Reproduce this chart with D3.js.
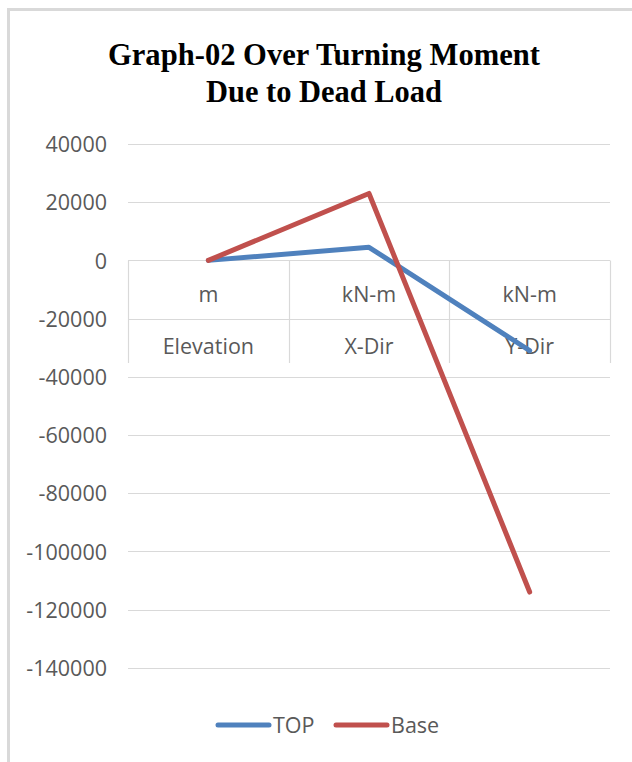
<!DOCTYPE html>
<html>
<head>
<meta charset="utf-8">
<script src="https://cdn.jsdelivr.net/npm/d3@7"></script>
<style>
  html, body { margin: 0; padding: 0; background: #ffffff; }
  svg { display: block; }
</style>
</head>
<body>
<svg id="chart" width="632" height="762"></svg>
<script>
// ---- data ----
const titleLines = ["Graph-02 Over Turning Moment", "Due to Dead Load"];
const categories = ["Elevation", "X-Dir", "Y-Dir"];
const units = ["m", "kN-m", "kN-m"];
const seriesNames = ["TOP", "Base"];
const topValues = [0, 4500, -31000];
const baseValues = [0, 23000, -114000];
const yTicks = [40000, 20000, 0, -20000, -40000, -60000, -80000, -100000, -120000, -140000];
const colors = ["#4f81bd", "#c0504d"];

const svg = d3.select("#chart");
const W = 632, H = 762;
const plot = { left: 128, right: 610, top: 144, bottom: 667.7 };
const labelFont = "'Open Sans', 'Noto Sans', sans-serif";
const labelSize = 21.5;
const textColor = "#595959";
const gridColor = "#d9d9d9";

// chart frame
svg.append("rect")
  .attr("x", 8.5).attr("y", 9.5)
  .attr("width", W + 20).attr("height", H + 20)
  .attr("fill", "#ffffff")
  .attr("stroke", "#d9d9d9").attr("stroke-width", 3);

// title
const titleWidths = [432, 236];
const titleBaselines = [65, 102];
titleLines.forEach((t, i) => {
  svg.append("text")
    .attr("x", 324).attr("y", titleBaselines[i])
    .attr("text-anchor", "middle")
    .attr("font-family", "'Liberation Serif', 'DejaVu Serif', serif")
    .attr("font-weight", "bold")
    .attr("font-size", 31)
    .attr("fill", "#000000")
    .attr("textLength", titleWidths[i])
    .attr("lengthAdjust", "spacingAndGlyphs")
    .text(t);
});

// scales
const y = d3.scaleLinear().domain([-140000, 40000]).range([plot.bottom, plot.top]);
const x = d3.scaleBand().domain(categories).range([plot.left, plot.right]).padding(0);
const cx = c => x(c) + x.bandwidth() / 2;

// gridlines
svg.append("g").selectAll("line").data(yTicks).join("line")
  .attr("x1", plot.left).attr("x2", plot.right)
  .attr("y1", d => Math.round(y(d)) + 0.5).attr("y2", d => Math.round(y(d)) + 0.5)
  .attr("stroke", gridColor).attr("stroke-width", 1.2);

// y axis labels via d3 axis
const yAxis = d3.axisLeft(y).tickValues(yTicks).tickFormat(d => String(d)).tickSize(0).tickPadding(0);
const gy = svg.append("g").attr("transform", `translate(107,0)`).call(yAxis);
gy.select(".domain").remove();
gy.selectAll("text")
  .attr("font-family", labelFont)
  .attr("font-size", labelSize)
  .attr("fill", textColor)
  .attr("dy", "0.36em")
  .attr("x", 0);

// category table
const y0 = Math.round(y(0)) + 0.5;
const tableBottom = 363;
const rowSplit = Math.round(y(-20000)) + 0.5;
const boundaries = categories.map(c => x(c)).concat([plot.right]);
svg.append("g").selectAll("line").data(boundaries).join("line")
  .attr("x1", d => Math.round(d) + 0.5).attr("x2", d => Math.round(d) + 0.5)
  .attr("y1", y0).attr("y2", tableBottom)
  .attr("stroke", gridColor).attr("stroke-width", 1.2);
svg.append("line")
  .attr("x1", plot.left).attr("x2", plot.right)
  .attr("y1", rowSplit).attr("y2", rowSplit)
  .attr("stroke", gridColor).attr("stroke-width", 1.2);

svg.append("g").selectAll("text").data(units).join("text")
  .attr("x", (d, i) => cx(categories[i]))
  .attr("y", 302)
  .attr("text-anchor", "middle")
  .attr("font-family", labelFont).attr("font-size", labelSize).attr("fill", textColor)
  .text(d => d);
svg.append("g").selectAll("text").data(categories).join("text")
  .attr("x", d => cx(d))
  .attr("y", 354)
  .attr("text-anchor", "middle")
  .attr("font-family", labelFont).attr("font-size", labelSize).attr("fill", textColor)
  .text(d => d);

// lines
const line = d3.line().x((d, i) => cx(categories[i])).y(d => y(d));
[topValues, baseValues].forEach((vals, i) => {
  svg.append("path")
    .datum(vals)
    .attr("d", line)
    .attr("fill", "none")
    .attr("stroke", colors[i])
    .attr("stroke-width", 5)
    .attr("stroke-linejoin", "round")
    .attr("stroke-linecap", "round");
});

// legend
const legendY = 725;
const legendItems = [
  { name: seriesNames[0], color: colors[0], x1: 218, x2: 269, tx: 273 },
  { name: seriesNames[1], color: colors[1], x1: 336, x2: 387, tx: 391 }
];
const lg = svg.append("g");
legendItems.forEach(it => {
  lg.append("line")
    .attr("x1", it.x1).attr("x2", it.x2)
    .attr("y1", legendY).attr("y2", legendY)
    .attr("stroke", it.color).attr("stroke-width", 5)
    .attr("stroke-linecap", "round");
  lg.append("text")
    .attr("x", it.tx).attr("y", legendY)
    .attr("dy", "0.36em")
    .attr("font-family", labelFont).attr("font-size", labelSize).attr("fill", textColor)
    .text(it.name);
});
</script>
</body>
</html>
